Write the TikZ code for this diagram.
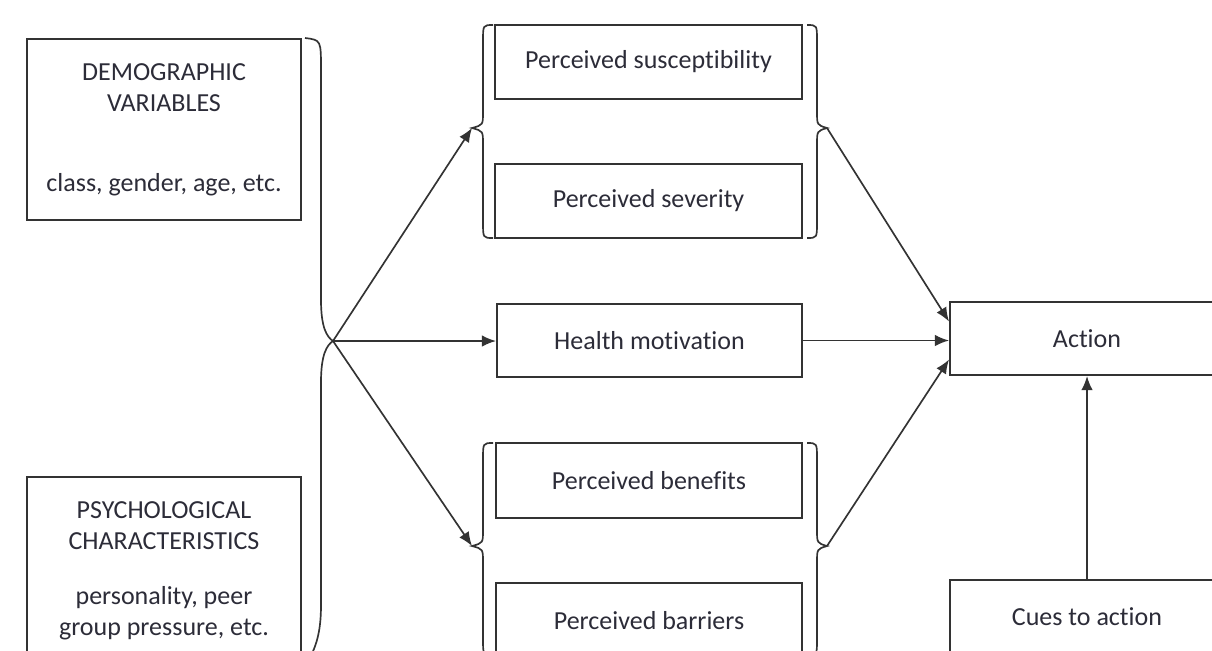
\documentclass[tikz,border=0pt]{standalone}
\usepackage{fontspec}
\setmainfont{Carlito}[Ligatures={NoCommon,NoContextual}]
\usetikzlibrary{arrows.meta,calc}
\definecolor{ink}{HTML}{333333}
\definecolor{txt}{HTML}{2C2C38}
\newcommand\LBr[6]{\draw[brace] (#1,#4) .. controls (#2,#4) .. (#2,#4+16) -- (#2,#5-16) .. controls (#2,#5-3) .. (#3,#5) .. controls (#2,#5+3) .. (#2,#5+16) -- (#2,#6-16) .. controls (#2,#6) .. (#1,#6);}
\begin{document}
\begin{tikzpicture}[x=0.02cm,y=-0.02cm,
  box/.style={draw=ink, line width=1.15pt, align=center, inner sep=0pt, text=txt,
    font=\fontsize{14.8}{17.5}\selectfont},
  brace/.style={draw=ink, line width=0.95pt},
  arr/.style={draw=ink, line width=0.95pt, -{Latex[length=8pt,width=6.5pt]}}]
\useasboundingbox (0,0) rectangle (1212,650);
\clip (0,0) rectangle (1212,650);
\fill[white] (0,0) rectangle (1212,650);

% left boxes
\node[box, minimum width=5.48cm, minimum height=3.62cm] (demo) at (164,129.5)
  {DEMOGRAPHIC\\VARIABLES\\[28pt]class, gender, age, etc.};
\node[box, minimum width=5.48cm, minimum height=3.76cm] (psych) at (164,571)
  {PSYCHOLOGICAL\\CHARACTERISTICS\\[14pt]personality, peer\\group pressure, etc.};

% middle boxes
\node[box, minimum width=6.14cm, minimum height=1.48cm] (sus) at (648.5,62) {Perceived susceptibility};
\node[box, minimum width=6.14cm, minimum height=1.48cm] (sev) at (648.5,201) {Perceived severity};
\node[box, minimum width=6.10cm, minimum height=1.46cm] (hm) at (649.5,340.5) {Health motivation};
\node[box, minimum width=6.12cm, minimum height=1.50cm] (ben) at (649,480.5) {Perceived benefits};
\node[box, minimum width=6.12cm, minimum height=1.50cm] (bar) at (649,620.5) {Perceived barriers};

% right boxes
\node[box, minimum width=5.48cm, minimum height=1.46cm] (act) at (1087,338.5) {Action};
\node[box, minimum width=5.48cm, minimum height=1.48cm] (cues) at (1087,617) {Cues to action};

% big brace
\draw[brace] (305,38) .. controls (321,40) .. (321,70) -- (321,300)
  .. controls (321,328) and (327,337) .. (333,341)
  .. controls (327,345) and (321,354) .. (321,382) -- (321,605)
  .. controls (321,635) and (315,652) .. (303,668);
\coordinate (bt) at (333,341);

% small braces
\LBr{493}{483}{472}{25}{128}{238}
\LBr{807}{817}{827}{25}{128}{238}
\LBr{493}{483}{472}{443}{546}{655}
\LBr{807}{817}{827}{443}{546}{655}
\coordinate (ul) at (472,128);
\coordinate (ur) at (827,128);
\coordinate (ll) at (472,546);
\coordinate (lr) at (827,546);

% arrows
\draw[arr] (bt) -- (ul);
\draw[arr] (bt) -- (bt -| hm.west);
\draw[arr] (bt) -- (ll);
\draw[arr] (ur) -- ($(act.west)+(0,-17)$);
\draw[arr] (hm.east) -- (hm.east -| act.west);
\draw[arr] (lr) -- ($(act.west)+(0,21)$);
\draw[arr] (cues.north) -- (act.south);
\end{tikzpicture}
\end{document}
